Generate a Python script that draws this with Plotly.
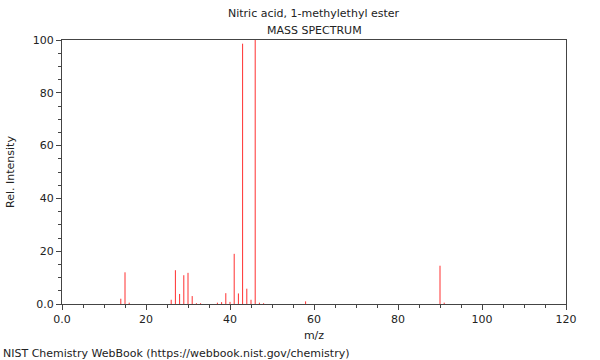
import plotly.graph_objects as go

mz = [14, 15, 16, 26, 27, 28, 29, 30, 31, 32, 33, 37, 38, 39, 40, 41, 42, 43, 44, 45, 46, 47, 48, 58, 90, 91]
intensity = [2.0, 12.0, 0.5, 1.6, 12.8, 3.8, 10.9, 11.8, 3.0, 0.3, 0.3, 0.5, 0.7, 4.1, 0.8, 19.0, 4.0, 98.6, 5.8, 1.6, 100.0, 0.5, 0.3, 1.0, 14.5, 0.5]

x_ticks = [0, 20, 40, 60, 80, 100, 120]
x_labels = ["0.0", "20", "40", "60", "80", "100", "120"]
y_ticks = [0, 20, 40, 60, 80, 100]
y_labels = ["0.0", "20", "40", "60", "80", "100"]

xs, ys = [], []
for m, v in zip(mz, intensity):
    xs += [m, m, None]
    ys += [0, v, None]

font = "DejaVu Sans"
fig = go.Figure()
fig.add_trace(go.Scatter(x=xs, y=ys, mode="lines",
                         line=dict(color="#ff3030", width=1),
                         hoverinfo="skip", showlegend=False))

axis_common = dict(showline=True, linecolor="#444444", linewidth=1, mirror=True,
                   showgrid=False, zeroline=False, ticks="outside", ticklen=5,
                   tickcolor="#444444", tickfont=dict(family=font, size=11, color="#222"),
                   automargin=False)

fig.update_xaxes(range=[0, 120], tickvals=x_ticks, ticktext=x_labels,
                 minor=dict(dtick=5, ticks="outside", ticklen=3, tickcolor="#444444"),
                 title=dict(text="m/z", font=dict(family=font, size=11, color="#222"), standoff=6),
                 **axis_common)
fig.update_yaxes(range=[0, 100], tickvals=y_ticks, ticktext=y_labels,
                 minor=dict(dtick=5, ticks="outside", ticklen=3, tickcolor="#444444"),
                 title=dict(text="Rel. Intensity", font=dict(family=font, size=11, color="#222"), standoff=15),
                 **axis_common)

fig.update_layout(
    width=600, height=360,
    margin=dict(l=62, r=34, t=40, b=56),
    plot_bgcolor="white", paper_bgcolor="white",
    font=dict(family=font, size=11, color="#222"),
    annotations=[
        dict(text="Nitric acid, 1-methylethyl ester", xref="paper", yref="paper",
             x=0.5, y=1, yshift=27, showarrow=False, font=dict(family=font, size=11, color="#222"),
             yanchor="middle"),
        dict(text="MASS SPECTRUM", xref="paper", yref="paper",
             x=0.5, y=1, yshift=10, showarrow=False, font=dict(family=font, size=11, color="#222"),
             yanchor="middle"),
        dict(text="NIST Chemistry WebBook (https://webbook.nist.gov/chemistry)",
             xref="paper", yref="paper", x=0, xshift=-61, y=0, yshift=-49,
             xanchor="left", yanchor="middle", showarrow=False,
             font=dict(family=font, size=11, color="#222")),
    ],
)

fig.write_html("out.html", config={"displayModeBar": False},
               post_script="document.body.style.margin='0';document.body.style.overflow='hidden';")
